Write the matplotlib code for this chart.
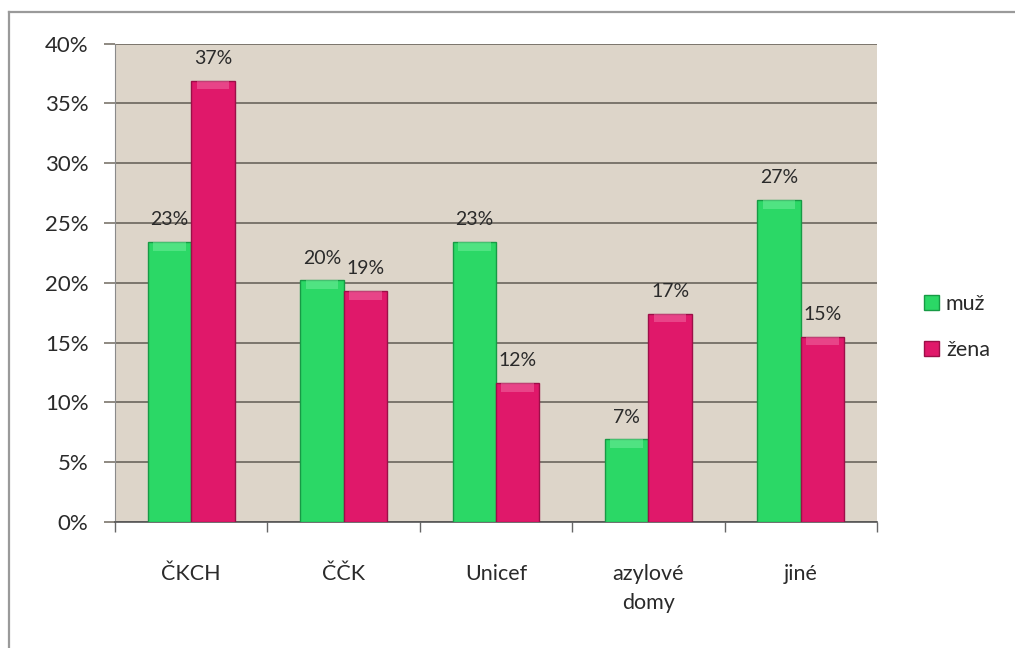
import matplotlib.pyplot as plt
import numpy as np
from matplotlib.lines import Line2D

categories = ["ČKCH", "ČČK", "Unicef", "azylové\ndomy", "jiné"]
muz = [23.4, 20.2, 23.4, 6.9, 26.9]
zena = [36.9, 19.3, 11.6, 17.4, 15.5]
muz_labels = ["23%", "20%", "23%", "7%", "27%"]
zena_labels = ["37%", "19%", "12%", "17%", "15%"]
y_ticks = [0, 5, 10, 15, 20, 25, 30, 35, 40]

GREEN = "#2bd866"
GREEN_EDGE = "#179a45"
GREEN_CAP = "#7ff2a6"
RED = "#e0186a"
RED_EDGE = "#9c0f48"
RED_CAP = "#f27aad"
BG = "#ddd5c9"
GRID = "#7b756c"
TEXT = "#2a2a2a"

plt.rcParams["font.family"] = ["Lato", "DejaVu Sans"]

fig = plt.figure(figsize=(10.15, 6.48), dpi=100)
ax = fig.add_axes([115 / 1015, 1 - 522 / 648, (877 - 115) / 1015, (522 - 43.6) / 648])
ax.set_facecolor(BG)

x = np.arange(len(categories))
w = 0.285
cap = 0.7

ax.bar(x - w / 2, muz, width=w, color=GREEN, edgecolor=GREEN_EDGE, linewidth=1.0, zorder=3, label="muž")
ax.bar(x + w / 2, zena, width=w, color=RED, edgecolor=RED_EDGE, linewidth=1.0, zorder=3, label="žena")
# light bevel at the top of each bar
ax.bar(x - w / 2, [cap] * len(muz), bottom=np.array(muz) - cap, width=w * 0.75,
       color=GREEN_CAP, linewidth=0, zorder=4, alpha=0.45)
ax.bar(x + w / 2, [cap] * len(zena), bottom=np.array(zena) - cap, width=w * 0.75,
       color=RED_CAP, linewidth=0, zorder=4, alpha=0.45)

for xi, v, lab in zip(x - w / 2, muz, muz_labels):
    ax.annotate(lab, (xi, v), xytext=(0, 10), textcoords="offset points",
                ha="center", va="bottom", fontsize=14, color=TEXT, zorder=5)
for xi, v, lab in zip(x + w / 2, zena, zena_labels):
    ax.annotate(lab, (xi, v), xytext=(0, 10), textcoords="offset points",
                ha="center", va="bottom", fontsize=14, color=TEXT, zorder=5)

ax.set_xlim(-0.5, len(categories) - 0.5)
ax.set_ylim(0, 40)
ax.set_yticks(y_ticks)
ax.set_yticklabels([f"{t}%" for t in y_ticks])
ax.yaxis.grid(True, color=GRID, linewidth=1.4, zorder=1)
ax.set_axisbelow(True)

ax.set_xticks(x)
ax.set_xticklabels(categories)
for lab in ax.get_xticklabels():
    lab.set_linespacing(1.6)
ax.set_xticks(np.arange(len(categories) + 1) - 0.5, minor=True)
ax.tick_params(axis="x", which="major", length=0, pad=30, labelsize=15.5, labelcolor=TEXT)
ax.tick_params(axis="x", which="minor", length=7, width=1, color="#666666", direction="out")
ax.tick_params(axis="y", length=8, width=1.2, color=GRID, pad=11, labelsize=16, labelcolor=TEXT)

for s in ["top", "right"]:
    ax.spines[s].set_visible(False)
ax.spines["left"].set_color("#8a8a8a")
ax.spines["bottom"].set_color("#555555")
ax.spines["bottom"].set_linewidth(1.2)

fig.legend(loc="center left", bbox_to_anchor=(905 / 1015, 1 - 327 / 648), frameon=False,
           fontsize=15.5, handlelength=0.7, handleheight=0.7, handletextpad=0.3,
           labelspacing=1.2, labelcolor=TEXT)

# outer chart border (right and bottom edges fall outside the image)
fig.add_artist(Line2D([9 / 1015, 1.0], [1 - 12 / 648] * 2, transform=fig.transFigure,
                      color="#9a9a9a", linewidth=1.6))
fig.add_artist(Line2D([9 / 1015] * 2, [0.0, 1 - 12 / 648], transform=fig.transFigure,
                      color="#9a9a9a", linewidth=1.6))

fig.savefig("out.png", dpi=100, facecolor="white")
